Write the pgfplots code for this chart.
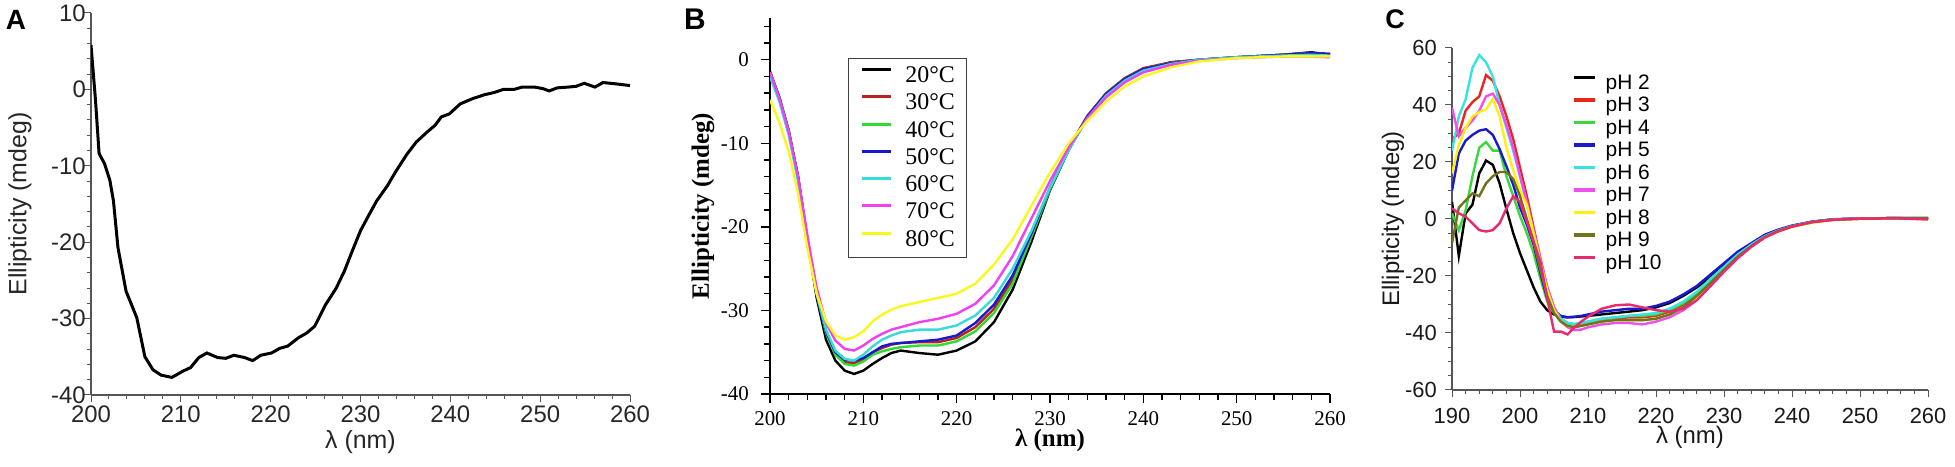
\documentclass[border=0pt]{standalone}
\usepackage{pgfplots}
\pgfplotsset{compat=1.18}
\usepackage{pgfplotstable}
\usepackage{fontspec}
\setmainfont{Liberation Sans}
\newfontfamily\timesf{Liberation Serif}

\definecolor{bRed}{HTML}{B8231C}
\definecolor{bGreen}{HTML}{2EDB2E}
\definecolor{bBlue}{HTML}{1818CC}
\definecolor{bCyan}{HTML}{38DADA}
\definecolor{bMag}{HTML}{F040F0}
\definecolor{bYel}{HTML}{F8F820}
\definecolor{cRed}{HTML}{E8261E}
\definecolor{cGreen}{HTML}{3BD83B}
\definecolor{cBlue}{HTML}{1A1ACC}
\definecolor{cCyan}{HTML}{38E2E2}
\definecolor{cMag}{HTML}{EE50EE}
\definecolor{cYel}{HTML}{FFEE10}
\definecolor{cOlive}{HTML}{72721E}
\definecolor{cPink}{HTML}{E82A6E}
\definecolor{axgray}{HTML}{555555}

\pgfplotstableread{
x y
200 5.8
200.5 -1.4
200.9 -8.4
201.5 -9.7
202.1 -11.9
202.5 -14.6
203.0 -20.7
203.9 -26.4
205.1 -29.9
206.0 -35.0
206.9 -36.7
207.8 -37.4
209.0 -37.7
210.2 -36.9
211.1 -36.4
212.0 -35.1
212.9 -34.5
214.1 -35.1
215.0 -35.2
215.9 -34.8
217.1 -35.1
218.0 -35.5
218.9 -34.8
220.1 -34.5
221.0 -33.9
221.9 -33.6
223.1 -32.5
224.0 -31.9
224.9 -31.0
226.1 -28.2
227.3 -26.0
228.2 -23.8
229.1 -21.1
230.0 -18.5
231.0 -16.3
231.8 -14.6
233.0 -12.6
233.9 -10.8
235.1 -8.6
236.2 -6.9
237.4 -5.6
238.3 -4.7
239.0 -3.6
239.9 -3.2
241.1 -1.9
242.5 -1.2
243.8 -0.7
244.9 -0.4
245.9 0.0
247.1 0.0
248.0 0.3
249.4 0.3
250.3 0.1
251.0 -0.2
251.9 0.2
253.1 0.3
254.0 0.4
254.9 0.8
256.1 0.3
257.0 0.9
258.6 0.7
260.0 0.5
}\tabA

\pgfplotstableread{
x t20 t30 t40 t50 t60 t70 t80
200 -1.4 -1.5 -1.5 -1.6 -2 -1.5 -4.8
201 -4.5 -4.5 -4.5 -4.6 -5 -4.6 -7.5
202 -8.5 -8.5 -8.5 -8.6 -9 -8.6 -11
203 -14 -14 -14 -14 -14.5 -14 -16
204 -21.5 -21.5 -21.5 -21.5 -21.5 -21 -22.5
205 -28.5 -28 -28 -28 -28 -27.3 -28
206 -33.5 -32.5 -32.7 -32.5 -32.3 -31.5 -31.3
207 -36 -35 -35.3 -35 -34.8 -33.6 -33
208 -37.2 -36.2 -36.4 -35.9 -35.8 -34.6 -33.5
209 -37.6 -36.3 -36.6 -36.0 -36.0 -34.8 -33.2
210 -37.2 -35.9 -36.1 -35.7 -35.3 -34.2 -32.5
211 -36.4 -35 -35.3 -35 -34.3 -33.4 -31.3
212 -35.7 -34.5 -34.9 -34.3 -33.5 -32.8 -30.5
213 -35.1 -34.1 -34.6 -34.0 -33.0 -32.3 -29.9
214 -34.8 -33.9 -34.4 -33.9 -32.6 -32.0 -29.5
216 -35.1 -33.8 -34.2 -33.7 -32.3 -31.4 -29.0
218 -35.3 -33.8 -34.2 -33.5 -32.3 -31.0 -28.5
220 -34.8 -33.3 -33.7 -33.0 -31.8 -30.4 -28.0
222 -33.7 -32.0 -32.5 -31.5 -30.6 -29.2 -26.8
224 -31.4 -29.8 -30.3 -29.3 -28.5 -27.0 -24.5
226 -27.5 -26.3 -26.8 -25.8 -25.0 -23.5 -21.5
228 -21.8 -21.0 -21.2 -20.8 -20.5 -19.0 -17.5
230 -15.6 -15.4 -15.5 -15.3 -15.3 -14.5 -13.5
232 -10.8 -10.6 -10.7 -10.6 -10.8 -10.5 -10.0
234 -6.9 -6.7 -6.8 -6.8 -7.0 -7.0 -7.3
236 -4.1 -4.0 -4.1 -4.1 -4.3 -4.5 -5.0
238 -2.3 -2.2 -2.3 -2.3 -2.5 -2.7 -3.2
240 -1.1 -1.0 -1.1 -1.1 -1.3 -1.5 -2.0
243 -0.3 -0.3 -0.4 -0.4 -0.5 -0.6 -0.9
246 0.0 0.0 0.0 0.0 0.0 -0.1 -0.2
250 0.3 0.3 0.3 0.3 0.3 0.2 0.2
255 0.6 0.6 0.6 0.6 0.5 0.4 0.4
258 0.9 0.8 0.8 0.8 0.6 0.4 0.4
260 0.6 0.7 0.6 0.7 0.5 0.3 0.4
}\tabB

\pgfplotstableread{
x p2 p3 p4 p5 p6 p7 p8 p9 p10
190 6 28 2 10 24 39 16 -8.5 3.7
191 -13 30 -4 23 36 29 26 4 2
192 2 38 3 27.5 42 32 32 6.5 0.8
193 5 41 15 29.5 53 34.5 36 9 -1.5
194 16 43 25 31 57.5 38 37.5 8 -3.9
195 20.5 50.5 27 31.5 55 43 38.5 12.5 -4.4
196 19 48.5 24 29.5 50 44 42 15 -3.9
197 12.5 43 24 24.5 40 40 36 16.5 -1.5
198 3.5 36 15 18.5 32 33 25 16.5 3.7
199 -5 28 8 12 24 25 17 14 8
200 -12 18 1 4 15 15 10 8 6
201 -18 8 -5 -2 5 6 5 0 -1
202 -24 -3 -12 -9 -5 -4 -5 -8 -8
203 -29 -14 -21 -19 -15 -14 -15 -18 -15
204 -32 -24 -29 -28 -25 -24 -25 -27 -28
205 -33.5 -31 -33 -32 -31 -31 -32 -33 -39.5
206 -34.3 -35 -35.5 -34 -35 -36 -36 -36 -39.5
207 -34.5 -36.5 -36.5 -34.5 -36.5 -38 -37.5 -37.5 -40.5
208 -34.4 -37 -37 -34.3 -36.8 -39 -38 -38 -38
209 -34.2 -36.8 -36.5 -34 -36.5 -38.8 -37.5 -37.5 -36
210 -34 -36.3 -36 -33.5 -36 -38 -37 -37 -34.3
212 -33.5 -35.5 -35 -32.5 -35 -37 -36 -36 -31.5
214 -33 -35 -34.5 -32 -34.5 -36.5 -35.5 -35.5 -30.3
216 -32.5 -34.5 -34 -31.5 -34 -36.5 -35.5 -35.5 -30
218 -32 -34.5 -34 -31.5 -33.5 -37 -35.5 -35.5 -31
220 -31 -34 -33.5 -30.5 -33 -36 -35 -35 -32
222 -29.5 -32.5 -32 -29 -31.5 -34.5 -33.5 -33.5 -32.5
224 -27 -30 -29.5 -26.5 -29 -32 -31 -31 -31.5
226 -24 -26.5 -26 -23.5 -25.5 -28.5 -27.5 -27 -28.5
228 -20.5 -22 -21.5 -19.5 -21 -23.5 -23 -22.5 -23.5
230 -16.5 -17.5 -17 -15.5 -16.8 -18.5 -18.2 -17.8 -18.5
232 -12.5 -13 -12.5 -11.5 -12.5 -13.5 -13.5 -13.2 -13.8
234 -9 -9.3 -9 -8.5 -9 -9.5 -9.7 -9.5 -9.8
236 -6 -6 -6 -5.5 -6 -6.3 -6.5 -6.3 -6.5
238 -4 -4 -4 -3.7 -4 -4.2 -4.4 -4.2 -4.3
240 -2.5 -2.5 -2.5 -2.3 -2.5 -2.6 -2.8 -2.6 -2.7
243 -1 -1 -1 -0.9 -1 -1.1 -1.3 -1.1 -1.1
246 -0.2 -0.2 -0.2 -0.1 -0.2 -0.3 -0.4 -0.3 -0.3
250 0.2 0.2 0.2 0.2 0.2 0.1 0 0.1 0.1
255 0.3 0.3 0.3 0.3 0.3 0.2 0.2 0.2 0.3
260 0.2 0.3 0.3 0.3 0.3 0.2 0.2 0.2 -0.2
}\tabC

\pgfplotsset{
  cdbase/.style={
    scale only axis, anchor=south west,
    axis x line*=bottom, axis y line*=left,
    tick align=outside, major tick length=7bp, minor tick length=4bp,
    /pgf/number format/assume math mode=true,
    xticklabel style={anchor=center, inner sep=0pt},
    yticklabel style={anchor=east, inner sep=0pt},
    xlabel style={at={(axis description cs:0.5,0)}, anchor=center, inner sep=0pt},
    ylabel style={anchor=center, inner sep=0pt},
  }
}

\begin{document}
\begin{tikzpicture}[x=1bp,y=1bp]
\useasboundingbox (0,0) rectangle (1955,467);

\node[font=\bfseries\fontsize{28}{28}\selectfont] at (16,447) {A};
\node[font=\bfseries\fontsize{30}{30}\selectfont] at (695,448) {B};
\node[font=\bfseries\fontsize{27}{27}\selectfont] at (1395,448) {C};

% ---------------- A
\begin{axis}[cdbase,
  at={(91bp,72bp)}, width=539bp, height=382bp,
  xmin=200, xmax=260, ymin=-40, ymax=10,
  xtick={200,210,...,260}, minor xtick={202,204,...,258},
  ytick={-40,-30,...,10}, minor ytick={-38,-36,...,8},
  axis line style={axgray, line width=1.2bp},
  every tick/.style={axgray, line width=1bp},
  tick label style={font=\fontsize{24}{24}\selectfont, text=black!85},
  xticklabel style={yshift=-12bp},
  yticklabel style={xshift=2bp},
  xlabel={λ (nm)}, ylabel={Ellipticity (mdeg)},
  label style={font=\fontsize{25}{25}\selectfont, text=black!85},
  xlabel style={yshift=-47bp},
  ylabel style={at={(axis description cs:-0.1317,0.5)}},
]
\addplot[black, line width=3bp] table[x=x,y=y] {\tabA};
\end{axis}

% ---------------- B
\begin{axis}[cdbase,
  at={(770bp,73bp)}, width=560bp, height=376bp,
  xmin=200, xmax=260, ymin=-40, ymax=5,
  xtick={200,210,...,260}, minor xtick={202,204,...,258},
  ytick={-40,-30,...,0}, minor ytick={-38,-36,...,4},
  axis line style={black, line width=1.6bp},
  every tick/.style={black, line width=1.4bp},
  major tick length=9bp, minor tick length=6bp,
  tick label style={font=\timesf\fontsize{21}{21}\selectfont},
  xticklabel style={yshift=-16bp},
  yticklabel style={xshift=-12bp},
  xlabel={\bfseries λ (nm)}, ylabel={\bfseries Ellipticity (mdeg)},
  label style={font=\timesf\fontsize{25}{25}\selectfont},
  xlabel style={yshift=-46bp},
  ylabel style={at={(axis description cs:-0.1196,0.5)}},
  legend style={at={(0.139,0.894)}, anchor=north west, draw=black!75, line width=1.2bp,
    fill=white, font=\timesf\fontsize{24}{24}\selectfont,
    inner xsep=12bp, inner ysep=6bp, row sep=4.3bp,
    /tikz/every odd column/.append style={column sep=13bp},
    nodes={inner sep=0bp, text height=18bp, text depth=5bp}},
  legend cell align=left,
  legend image code/.code={\draw[#1,line width=3bp] (0bp,6.5bp) -- (29bp,6.5bp);},
]
\addplot[black, line width=2.4bp] table[x=x,y=t20] {\tabB};
\addplot[bRed, line width=2.4bp] table[x=x,y=t30] {\tabB};
\addplot[bGreen, line width=2.4bp] table[x=x,y=t40] {\tabB};
\addplot[bBlue, line width=2.4bp] table[x=x,y=t50] {\tabB};
\addplot[bCyan, line width=2.4bp] table[x=x,y=t60] {\tabB};
\addplot[bMag, line width=2.4bp] table[x=x,y=t70] {\tabB};
\addplot[bYel, line width=2.4bp] table[x=x,y=t80] {\tabB};
\legend{20°C,30°C,40°C,50°C,60°C,70°C,80°C}
\end{axis}

% ---------------- C
\begin{axis}[cdbase,
  at={(1452bp,77bp)}, width=476bp, height=342bp,
  xmin=190, xmax=260, ymin=-60, ymax=60,
  xtick={190,200,...,260}, minor xtick={192,194,...,258},
  ytick={-60,-40,...,60}, minor ytick={-55,-50,...,55},
  axis line style={axgray, line width=1.2bp},
  every tick/.style={axgray, line width=1bp},
  tick label style={font=\fontsize{22}{22}\selectfont, text=black!90},
  xticklabel style={yshift=-19bp},
  yticklabel style={xshift=-8bp},
  xlabel={λ (nm)}, ylabel={Ellipticity (mdeg)},
  label style={font=\fontsize{24}{24}\selectfont, text=black!90},
  xlabel style={yshift=-47bp},
  ylabel style={at={(axis description cs:-0.124,0.5)}},
  legend style={at={(0.252,0.927)}, anchor=north west, draw=none, fill=none,
    font=\fontsize{21}{21}\selectfont, inner sep=0bp, row sep=2bp,
    /tikz/every odd column/.append style={column sep=9bp},
    nodes={inner sep=0bp, text height=16bp, text depth=4.5bp}},
  legend cell align=left,
  legend image code/.code={\draw[#1,line width=3.5bp] (0bp,6bp) -- (21bp,6bp);},
]
\addplot[black, line width=2.4bp] table[x=x,y=p2] {\tabC};
\addplot[cRed, line width=2.4bp] table[x=x,y=p3] {\tabC};
\addplot[cGreen, line width=2.4bp] table[x=x,y=p4] {\tabC};
\addplot[cBlue, line width=2.4bp] table[x=x,y=p5] {\tabC};
\addplot[cCyan, line width=2.4bp] table[x=x,y=p6] {\tabC};
\addplot[cMag, line width=2.4bp] table[x=x,y=p7] {\tabC};
\addplot[cYel, line width=2.4bp] table[x=x,y=p8] {\tabC};
\addplot[cOlive, line width=2.4bp] table[x=x,y=p9] {\tabC};
\addplot[cPink, line width=2.4bp] table[x=x,y=p10] {\tabC};
\legend{pH 2,pH 3,pH 4,pH 5,pH 6,pH 7,pH 8,pH 9,pH 10}
\end{axis}
\end{tikzpicture}
\end{document}
